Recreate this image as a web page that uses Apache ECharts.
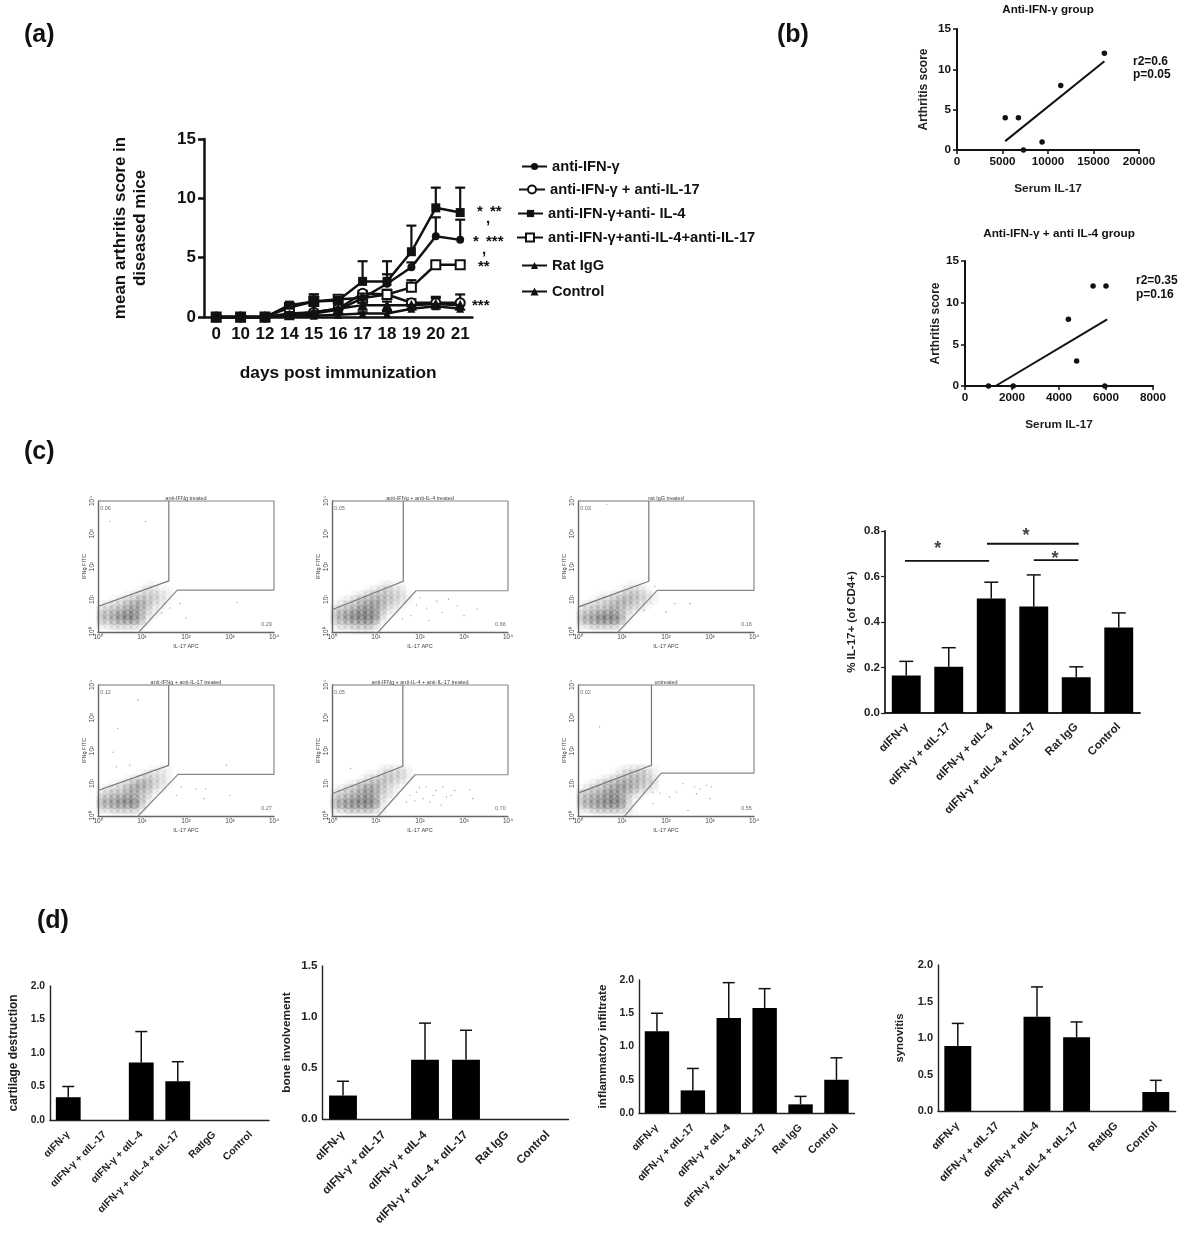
<!DOCTYPE html>
<html><head><meta charset="utf-8">
<script src="https://cdn.jsdelivr.net/npm/echarts@6/dist/echarts.min.js"></script>
<style>html,body{margin:0;padding:0;background:#fff}#c{width:1200px;height:1236px}</style>
</head><body><div id="c"></div>
<script>
// ---------- panel (a) ----------
const days=['0','10','12','14','15','16','17','18','19','20','21'];
const nameIFN='anti-IFN-γ', nameIFN17='anti-IFN-γ + anti-IL-17', nameIFN4='anti-IFN-γ+anti- IL-4',
      nameIFN417='anti-IFN-γ+anti-IL-4+anti-IL-17', nameRat='Rat IgG', nameCtl='Control';
const scoreIFN=[0,0,0,0.1,0.3,0.6,1.6,2.8,4.2,6.8,6.5];
const errIFN=[0,0,0,0.2,0.5,0.9,2.0,3.6,4.6,8.4,8.2];
const scoreIFN17=[0,0,0,0.3,0.4,0.7,2.0,1.9,1.2,1.2,1.2];
const errIFN17=[0,0,0,0.4,0.6,0.9,2.2,2.2,1.5,1.7,1.9];
const scoreIFN4=[0,0,0,1.0,1.3,1.4,3.0,3.0,5.5,9.2,8.8];
const errIFN4=[0,0,0,1.1,1.9,1.7,4.7,4.7,7.7,10.9,10.9];
const scoreIFN417=[0,0,0,0.8,1.3,1.5,1.6,1.9,2.5,4.4,4.4];
const errIFN417=[0,0,0,0.9,1.9,1.7,2.2,2.3,3.1,4.6,4.6];
const scoreRat=[0,0,0,0.1,0.1,0.2,0.3,0.3,0.7,0.9,0.7];
const errRat=[0,0,0,0.1,0.2,0.3,0.4,0.5,0.9,1.2,1.0];
const scoreCtl=[0,0,0,0.2,0.4,0.7,1.0,1.0,1.0,1.1,1.0];
const errCtl=[0,0,0,0.3,0.5,0.8,1.2,1.3,1.3,1.6,1.3];
// ---------- panel (b) ----------
const scatter1=[[5300,4],[6750,4],[7300,0],[9350,1],[11400,8],[16200,12]];
const fit1=[[5300,1.1],[16200,11]];
const scatter2=[[1000,0],[2050,0],[4400,8],[4750,3],[5450,12],[6000,12],[5950,0]];
const fit2=[[1300,0],[6050,8]];
// ---------- panel (c) bars ----------
const catsC=['αIFN-γ','αIFN-γ + αIL-17','αIFN-γ + αIL-4','αIFN-γ + αIL-4 + αIL-17','Rat IgG','Control'];
const catsD1=['αIFN-γ','αIFN-γ + αIL-17','αIFN-γ + αIL-4','αIFN-γ + αIL-4 + αIL-17','RatIgG','Control'];
const il17Val=[0.165,0.203,0.503,0.468,0.157,0.376];
const il17Err=[0.227,0.287,0.575,0.607,0.203,0.44];
const sigLines=[[[0.47,0.669],[2.45,0.669]],[[2.40,0.744],[4.56,0.744]],[[3.5,0.672],[4.55,0.672]]];
const sigStars=[[1.24,0.722],[3.32,0.778],[4.0,0.675]];
// ---------- panel (d) bars ----------
const cartVal=[0.34,0,0.86,0.58,0,0];   const cartErr=[0.5,0,1.32,0.87,0,0];
const boneVal=[0.23,0,0.58,0.58,0,0];   const boneErr=[0.37,0,0.94,0.87,0,0];
const inflVal=[1.23,0.34,1.43,1.58,0.13,0.5]; const inflErr=[1.5,0.67,1.96,1.87,0.25,0.83];
const synoVal=[0.89,0,1.29,1.01,0,0.26]; const synoErr=[1.2,0,1.7,1.22,0,0.42];
// ---------- panel (c) flow plots: hand-read density, rows bottom to top ----------
const facsTitles=['anti-IFNg treated','anti-IFNg + anti-IL-4 treated','rat IgG treated','anti-IFNg + anti-IL-17 treated','anti-IFNg + anti-IL-4 + anti-IL-17 treated','untreated'];
const facsTopGate=['0.06','0.05','0.03','0.12','0.05','0.02'];
const facsLowGate=['0.29','0.66','0.16','0.27','0.70','0.55'];
const gateA=[[1.61,1.56,0.78],[1.62,1.55,0.68],[1.61,1.55,0.76],[1.606,1.547,0.78],[1.61,1.52,0.68],[1.67,1.55,0.70]];
const gateB=[[0.93,1.80,1.28],[1.05,1.91,1.26],[0.91,1.80,1.27],[0.91,1.82,1.27],[1.05,1.89,1.26],[1.06,1.89,1.31]];
const density1=['001111000000','223333200000','446788510000','456898521000','334567531100','123356642100','001234543210','000012333210','000000122110','000000011000'];
const density2=['011222100000','233445300000','457899720000','467999831000','345688742100','123467753210','012345654321','000123444321','000001233220','000000012110'];
const density3=['001111000000','234444200000','467999610000','456888520000','234456432100','123345543210','001234554321','000112344321','000000123210','000000011100'];
const density4=['001111000000','334444200000','567889410000','456787420000','234456431000','123356542100','001235653210','000012343210','000000122210','000000001110'];
const density5=['001111110000','345556310000','578999820000','456789621000','234567632100','123467642100','001235543210','000012344321','000001123331','000000012221'];
const density6=['001111111000','234555420000','467899830000','456789731000','345678642100','123467765321','012345765432','000123455432','000001234431','000000122321'];
const sparse1=[[1.44,0.58],[1.63,0.73],[2.0,0.43],[1.87,0.87],[3.16,0.9],[0.27,3.38],[1.08,3.38]];
const sparse2=[[1.92,0.83],[2.38,0.94],[2.15,0.73],[1.8,0.5],[2.5,0.6],[2.85,0.8],[3.0,0.5],[2.2,0.35],[1.6,0.4],[2.65,1.0],[3.3,0.7],[2.0,1.05]];
const sparse3=[[2.54,0.87],[2.0,0.61],[2.2,0.87],[1.5,0.66],[1.75,1.4],[0.65,3.9]];
const sparse4=[[1.89,0.89],[2.23,0.83],[2.45,0.83],[2.41,0.53],[1.78,0.63],[3.0,0.63],[0.91,3.55],[0.45,2.67],[0.34,1.95],[0.42,1.5],[0.72,1.55],[2.92,1.55]];
const sparse5=[[1.99,0.87],[2.14,0.89],[2.37,0.78],[2.30,0.63],[2.07,0.53],[1.92,0.73],[1.77,0.63],[1.69,0.43],[1.88,0.46],[2.22,0.43],[2.52,0.89],[2.79,0.78],[2.60,0.58],[3.13,0.80],[3.2,0.53],[2.48,0.33],[2.71,0.63],[0.42,1.45]];
const sparse6=[[1.7,0.73],[1.86,0.7],[2.08,0.58],[2.39,0.99],[2.65,0.89],[2.77,0.83],[2.92,0.94],[3.03,0.89],[2.69,0.68],[2.24,0.73],[3.0,0.53],[2.5,0.17],[1.7,0.38],[0.49,2.72]];
const densities=[density1,density2,density3,density4,density5,density6];
const sparses=[sparse1,sparse2,sparse3,sparse4,sparse5,sparse6];
const decadeTicks=['10⁰','10¹','10²','10³','10⁴'];

// ---------- layout only below ----------
const FONT='"Liberation Sans",Arial,sans-serif';
const grid=[],xAxis=[],yAxis=[],series=[],title=[];
function addGrid(l,t,r,b){grid.push({left:l,top:t,width:r-l,height:b-t,containLabel:false});return grid.length-1;}
function errBars(g,xi,vals,errs,cap,lw,z){
  series.push({type:'custom',xAxisIndex:xi,yAxisIndex:g,silent:true,z:z||3,clip:false,
    data:vals.map((v,i)=>[i,v,errs[i]]).filter(d=>d[2]>d[1]),
    renderItem:(p,api)=>{
      const a=api.coord([api.value(0),api.value(1)]),b=api.coord([api.value(0),api.value(2)]);
      const st={stroke:'#111',lineWidth:lw};
      return {type:'group',children:[
        {type:'line',shape:{x1:a[0],y1:a[1],x2:b[0],y2:b[1]},style:st},
        {type:'line',shape:{x1:b[0]-cap/2,y1:b[1],x2:b[0]+cap/2,y2:b[1]},style:st}]};
    }});
}
// panel a
const ga=addGrid(204,139,472.4,317);
xAxis.push({gridIndex:ga,type:'category',data:days,axisLine:{lineStyle:{color:'#111',width:2.5}},
  axisTick:{show:false},axisLabel:{color:'#111',fontFamily:FONT,fontWeight:'bold',fontSize:17,margin:9,interval:0},
  name:'days post immunization',nameLocation:'middle',nameGap:48,
  nameTextStyle:{color:'#111',fontFamily:FONT,fontWeight:'bold',fontSize:17.3}});
yAxis.push({gridIndex:ga,type:'value',min:0,max:15,interval:5,splitLine:{show:false},
  axisLine:{show:true,onZero:false,lineStyle:{color:'#111',width:2.5}},axisTick:{show:true,length:6,lineStyle:{width:2.5,color:'#111'}},
  axisLabel:{color:'#111',fontFamily:FONT,fontWeight:'bold',fontSize:17,margin:8},
  name:'mean arthritis score in\ndiseased mice',nameLocation:'middle',nameGap:54,
  nameTextStyle:{color:'#111',fontFamily:FONT,fontWeight:'bold',fontSize:17,lineHeight:20}});
const aSeries=[
 [nameIFN,scoreIFN,errIFN,'circle',8,5],[nameIFN17,scoreIFN17,errIFN17,'emptyCircle',9,4],
 [nameIFN4,scoreIFN4,errIFN4,'rect',9,6],[nameIFN417,scoreIFN417,errIFN417,'emptyRect',9,4],
 [nameRat,scoreRat,errRat,'triangle',8,5],[nameCtl,scoreCtl,errCtl,'triangle',11,5]];
aSeries.forEach(s=>{
  errBars(ga,ga,s[1],s[2],10,2.2,2);
  series.push({type:'line',name:s[0],xAxisIndex:ga,yAxisIndex:ga,data:s[1],symbol:s[3],symbolSize:s[4],showSymbol:true,clip:false,z:s[5],
    lineStyle:{color:'#111',width:2.5},itemStyle:{color:'#111',borderColor:'#111',borderWidth:s[3].startsWith('empty')?2.5:0}});
});
const legends=[[521,159],[518,182],[517,206],[516,230],[521,258],[521,284]].map((p,i)=>({
  data:[aSeries[i][0]],left:p[0],top:p[1],itemWidth:[25,26,25,26,25,25][i],itemHeight:[9,10,9,10,9,10][i],selectedMode:false,padding:0,
  textStyle:{color:'#111',fontFamily:FONT,fontWeight:'bold',fontSize:14.7}}));
// panel b
const plainNum=v=>String(v);
function scat(l,t,r,b,xmax,xint,pts,fit,yGap){
  const g=addGrid(l,t,r,b);
  xAxis.push({gridIndex:g,type:'value',min:0,max:xmax,interval:xint,splitLine:{show:false},
    axisLine:{onZero:false,lineStyle:{color:'#111',width:2}},axisTick:{length:4,lineStyle:{width:1.5,color:'#111'}},
    axisLabel:{color:'#111',fontFamily:FONT,fontWeight:'bold',fontSize:11.7,margin:6,formatter:plainNum},
    name:'Serum IL-17',nameLocation:'middle',nameGap:33,nameTextStyle:{color:'#222',fontFamily:FONT,fontWeight:'bold',fontSize:11.8}});
  yAxis.push({gridIndex:g,type:'value',min:0,max:15,interval:5,splitLine:{show:false},
    axisLine:{show:true,onZero:false,lineStyle:{color:'#111',width:2}},axisTick:{length:4,lineStyle:{width:1.5,color:'#111'}},
    axisLabel:{color:'#111',fontFamily:FONT,fontWeight:'bold',fontSize:11.7,margin:6},
    name:'Arthritis score',nameLocation:'middle',nameGap:yGap,nameTextStyle:{color:'#222',fontFamily:FONT,fontWeight:'bold',fontSize:12}});
  series.push({type:'scatter',xAxisIndex:g,yAxisIndex:g,data:pts,symbolSize:5.5,clip:false,itemStyle:{color:'#111',opacity:1},z:5});
  series.push({type:'line',xAxisIndex:g,yAxisIndex:g,data:fit,symbol:'none',clip:false,lineStyle:{color:'#111',width:2},z:4});
}
scat(957,29,1139,150,20000,5000,scatter1,fit1,27);
scat(965,261,1153,386,8000,2000,scatter2,fit2,22);
// panel c flow plots
const fpos=[[98,501],[332,501],[578,501],[98,685],[332,685],[578,685]];
fpos.forEach((p,i)=>{
  const g=addGrid(p[0],p[1],p[0]+176,p[1]+131);
  const axBase={gridIndex:g,type:'value',min:0,max:4,interval:1,splitLine:{show:false},axisTick:{show:false}};
  xAxis.push(Object.assign({},axBase,{axisLine:{show:true,onZero:false,lineStyle:{color:'#666',width:1.4}},
    axisLabel:{color:'#444',fontFamily:FONT,fontSize:6.5,margin:2,formatter:v=>decadeTicks[v]},
    name:'IL-17 APC',nameLocation:'middle',nameGap:11,nameTextStyle:{color:'#444',fontFamily:FONT,fontSize:5.5}}));
  yAxis.push(Object.assign({},axBase,{axisLine:{show:true,onZero:false,lineStyle:{color:'#666',width:1.4}},
    axisLabel:{color:'#444',fontFamily:FONT,fontSize:6.5,margin:2,rotate:90,formatter:v=>decadeTicks[v]},
    name:'IFNg FITC',nameLocation:'middle',nameGap:11,nameTextStyle:{color:'#444',fontFamily:FONT,fontSize:5.5}}));
  title.push({text:facsTitles[i],left:p[0]+88,top:p[1]-6,textAlign:'center',padding:0,
    textStyle:{color:'#444',fontFamily:FONT,fontSize:5.5,fontWeight:'normal'}});
  const cells=[];
  densities[i].forEach((row,r)=>row.split('').forEach((d,c)=>{if(+d>0)cells.push([0.075+c*0.15,0.075+r*0.15,+d]);}));
  series.push({type:'scatter',xAxisIndex:g,yAxisIndex:g,data:cells,symbol:'circle',symbolSize:11,silent:true,z:1,
    itemStyle:{opacity:1,color:q=>'rgba(55,55,55,'+(q.value[2]*0.03).toFixed(3)+')'}});
  series.push({type:'scatter',xAxisIndex:g,yAxisIndex:g,data:sparses[i],symbolSize:1.3,silent:true,z:1,itemStyle:{color:'#999',opacity:1}});
  const A=gateA[i],B=gateB[i];
  series.push({type:'line',xAxisIndex:g,yAxisIndex:g,data:[[0,A[2]],[A[0],A[1]],[A[0],4],[0,4]],symbol:'none',silent:true,clip:false,lineStyle:{color:'#777',width:1.2},z:2});
  series.push({type:'line',xAxisIndex:g,yAxisIndex:g,data:[[A[0],4],[4,4],[4,B[2]],[B[1],B[2]],[B[0],0]],symbol:'none',silent:true,clip:false,lineStyle:{color:'#888',width:1.2},z:2});
  series.push({type:'scatter',xAxisIndex:g,yAxisIndex:g,symbolSize:0,silent:true,z:3,
    data:[{value:[0.05,3.78],label:{formatter:facsTopGate[i],position:'right',distance:0}},{value:[3.95,0.22],label:{formatter:facsLowGate[i],position:'left',distance:0}}],
    label:{show:true,color:'#444',fontFamily:FONT,fontSize:5.5}});
});
// bar panels
function barPanel(l,t,r,b,cats,vals,errs,ymax,yint,yname,gap,labSize,nameSize,lw,cap,mg){
  const g=addGrid(l,t,r,b);
  xAxis.push({gridIndex:g,type:'category',data:cats,axisLine:{lineStyle:{color:'#222',width:lw}},
    axisTick:{alignWithLabel:true,length:4,lineStyle:{color:'#222',width:1.2}},
    axisLabel:{color:'#222',fontFamily:FONT,fontWeight:'bold',fontSize:labSize,rotate:45,margin:mg,interval:0}});
  yAxis.push({gridIndex:g,type:'value',min:0,max:ymax,interval:yint,splitLine:{show:false},
    axisLine:{show:true,onZero:false,lineStyle:{color:'#222',width:lw}},axisTick:{length:4,lineStyle:{color:'#222',width:1.2}},
    axisLabel:{color:'#222',fontFamily:FONT,fontWeight:'bold',fontSize:labSize,margin:5,formatter:v=>v.toFixed(1)},
    name:yname,nameLocation:'middle',nameGap:gap,nameTextStyle:{color:'#222',fontFamily:FONT,fontWeight:'bold',fontSize:nameSize}});
  series.push({type:'bar',xAxisIndex:g,yAxisIndex:g,data:vals,barWidth:'68%',itemStyle:{color:'#000'},z:4});
  errBars(g,g,vals,errs,cap,1.5,3);
  return g;
}
const gc=barPanel(885,531,1140,713,catsC,il17Val,il17Err,0.8,0.2,'% IL-17+ (of CD4+)',27,11.5,11.5,1.8,14,12);
barPanel(50,986,269,1120,catsD1,cartVal,cartErr,2,0.5,'cartilage destruction',30,10.3,11.9,1.4,12,13);
barPanel(322.5,966,568.5,1119,catsC,boneVal,boneErr,1.5,0.5,'bone involvement',30,11.7,11.8,1.4,12,14);
barPanel(639,980,854.4,1113,catsC,inflVal,inflErr,2,0.5,'inflammatory infiltrate',30,10.5,11.8,1.4,12,13);
barPanel(938,965,1175.6,1111,catsD1,synoVal,synoErr,2,0.5,'synovitis',33,11,11.3,1.4,12,13);
// hidden numeric x axis over the (c) bars for significance brackets
xAxis.push({gridIndex:gc,type:'value',min:0,max:6,show:false});
const hx=xAxis.length-1;
sigLines.forEach(s=>series.push({type:'line',xAxisIndex:hx,yAxisIndex:gc,data:s,symbol:'none',clip:false,lineStyle:{color:'#111',width:1.8},z:5}));
series.push({type:'scatter',xAxisIndex:hx,yAxisIndex:gc,data:sigStars,symbolSize:0,clip:false,z:6,
  label:{show:true,formatter:'*',position:'inside',color:'#111',fontFamily:FONT,fontWeight:'bold',fontSize:18}});

function txt(x,y,t,size,align,extra){return Object.assign({type:'text',x:x,y:y,style:{text:t,fill:'#111',fontFamily:FONT,fontWeight:'bold',fontSize:size,textAlign:align||'left',textVerticalAlign:'middle'}},extra||{});}
const graphic=[
 txt(24,35,'(a)',25),txt(777,35,'(b)',25),txt(24,452,'(c)',25),txt(37,921,'(d)',25),
 txt(1048,10,'Anti-IFN-γ group',11.6,'center'),txt(1059,234,'Anti-IFN-γ + anti IL-4 group',11.8,'center'),
 txt(1133,62,'r2=0.6',12),txt(1133,75,'p=0.05',12),txt(1136,281,'r2=0.35',12),txt(1136,295,'p=0.16',12),
 txt(477,212,'*',15),txt(490,212,'**',15),txt(486,219,',',15),
 txt(473,242,'*',15),txt(486,242,'***',15),txt(482,250,',',15),
 txt(478,267,'**',15),txt(472,306,'***',15)
];
const chart=echarts.init(document.getElementById('c'),null,{renderer:'canvas'});
chart.setOption({animation:false,backgroundColor:'#fff',title:title,legend:legends,grid:grid,xAxis:xAxis,yAxis:yAxis,series:series,graphic:{elements:graphic}});
</script></body></html>
